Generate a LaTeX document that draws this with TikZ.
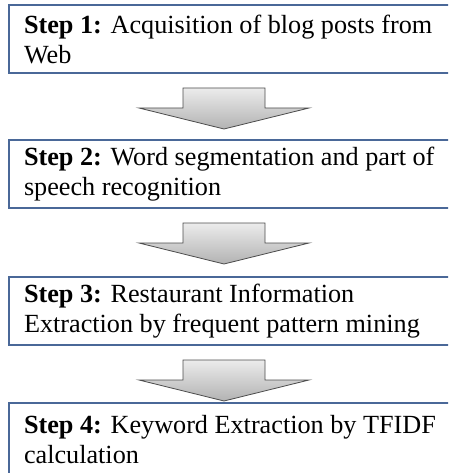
\documentclass[tikz,border=0pt]{standalone}
\usepackage{fontspec}
\setmainfont{Liberation Serif}
\usetikzlibrary{positioning,calc}
\definecolor{boxblue}{HTML}{4A6898}
\tikzset{>=latex}
\tikzset{
  stepbox/.style={rectangle, draw=boxblue, line width=2pt, anchor=north west,
    minimum width=470pt, minimum height=68pt, text width=440pt, inner xsep=14pt,
    align=flush left, font=\fontsize{26.2}{30}\selectfont},
  bigarrow/.style={draw=black!70, line width=0.8pt, top color=white, bottom color=black!30,
    line join=miter}
}

\begin{document}
\begin{tikzpicture}[x=1pt,y=1pt]
      \useasboundingbox (0,0) rectangle (448,-473);
      \clip (0,0) rectangle (448,-473);
      \coordinate (mid) at (224,0);
      \node[stepbox] (s1) at (8,-4) {\textbf{Step 1:} Acquisition of blog posts from\\Web};
      \node[stepbox, below=65pt of s1.south west, anchor=north west] (s2) {\textbf{Step 2:} Word segmentation and part of\\speech recognition};
      \node[stepbox, below=67pt of s2.south west, anchor=north west] (s3) {\textbf{Step 3:} Restaurant Information\\Extraction by frequent pattern mining};
      \node[stepbox, below=56pt of s3.south west, anchor=north west, minimum height=74pt] (s4) {\textbf{Step 4:} Keyword Extraction by TFIDF\\calculation};
      \foreach \a in {s1, s2, s3}{
        \draw[bigarrow] (mid |- \a.south) ++(-41,-14) -- ++(82,0) -- ++(0,-20) -- ++(44,0)
          -- ++(-85,-21) -- ++(-85,21) -- ++(44,0) -- cycle;
      }
    \end{tikzpicture}
\end{document}
